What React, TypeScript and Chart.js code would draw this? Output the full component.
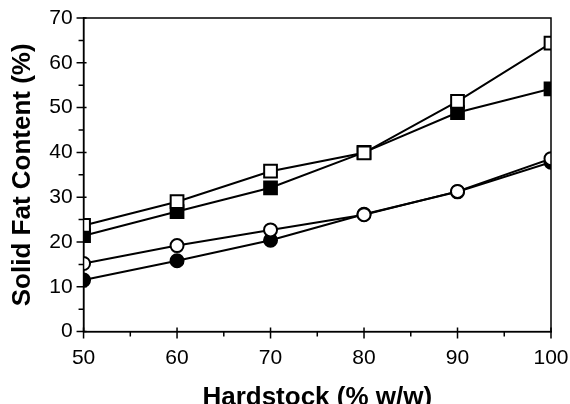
import React, { useEffect, useRef } from "react";
import { Chart, registerables } from "chart.js";

Chart.register(...registerables);

const hardstock = [50, 60, 70, 80, 90, 100];
const openSquare = [23.7, 29.0, 35.8, 39.9, 51.4, 64.4];
const filledSquare = [21.4, 26.8, 32.1, 40.0, 48.9, 54.2];
const openCircle = [15.2, 19.2, 22.7, 26.1, 31.3, 38.6];
const filledCircle = [11.5, 15.8, 20.4, 26.2, 31.2, 37.8];
const xTicks = [50, 55, 60, 65, 70, 75, 80, 85, 90, 95, 100];
const yTicks = [0, 5, 10, 15, 20, 25, 30, 35, 40, 45, 50, 55, 60, 65, 70];

const toPts = (ys: number[]) => hardstock.map((x, i) => ({ x, y: ys[i] }));

const framePlugin = {
  id: "frame",
  afterDraw(chart: any) {
    const { ctx, chartArea } = chart;
    const xs = chart.scales.x;
    const ys = chart.scales.y;
    ctx.save();
    ctx.strokeStyle = "#000";
    ctx.lineWidth = 1.5;
    ctx.strokeRect(chartArea.left, chartArea.top, chartArea.right - chartArea.left, chartArea.bottom - chartArea.top);
    ctx.beginPath();
    xTicks.forEach((v) => {
      const p = xs.getPixelForValue(v);
      const major = v % 10 === 0;
      ctx.moveTo(p, chartArea.bottom - (major ? 4 : 0));
      ctx.lineTo(p, chartArea.bottom + (major ? 7 : 5));
    });
    yTicks.forEach((v) => {
      const p = ys.getPixelForValue(v);
      const major = v % 10 === 0;
      ctx.moveTo(chartArea.left - (major ? 7 : 5), p);
      ctx.lineTo(chartArea.left + (major ? 3 : 0), p);
    });
    ctx.stroke();
    ctx.restore();
  },
};

export default function App() {
  const ref = useRef<HTMLCanvasElement>(null);
  useEffect(() => {
    document.body.style.margin = "0";
    const font = "'Liberation Sans', Arial, sans-serif";
    const ds = (data: number[], style: string, fill: boolean, r: number) => ({
      data: toPts(data),
      borderColor: "#000",
      borderWidth: 2,
      pointStyle: style,
      pointRadius: r,
      pointBorderWidth: 2,
      pointBackgroundColor: fill ? "#000" : "#fff",
      pointBorderColor: "#000",
      backgroundColor: fill ? "#000" : "#fff",
      tension: 0,
    });
    const chart = new Chart(ref.current!, {
      type: "line",
      data: {
        datasets: [
          ds(openSquare, "rect", false, 9),
          ds(openCircle, "circle", false, 6.5),
          ds(filledSquare, "rect", true, 9),
          ds(filledCircle, "circle", true, 6.5),
        ],
      },
      options: {
        animation: false,
        responsive: false,
        layout: { padding: { left: 7, right: 19, top: 18, bottom: -9 } },
        plugins: { legend: { display: false }, tooltip: { enabled: false } },
        scales: {
          x: {
            type: "linear",
            min: 50,
            max: 100,
            afterBuildTicks: (s: any) => {
              s.ticks = xTicks.map((v) => ({ value: v }));
            },
            afterFit: (s: any) => {
              s.paddingRight = 0;
              s.paddingLeft = 0;
            },
            ticks: {
              color: "#000",
              font: { family: font, size: 21 },
              autoSkip: false,
              maxRotation: 0,
              padding: 14,
              callback: (v: any) => (Number(v) % 10 === 0 ? String(v) : ""),
            },
            grid: { drawOnChartArea: false, drawTicks: false },
            border: { color: "#000", width: 1.5 },
            title: {
              display: true,
              text: "Hardstock (% w/w)",
              color: "#000",
              font: { family: font, size: 26, weight: "bold" },
              padding: { top: -3, bottom: 0 },
            },
          },
          y: {
            min: 0,
            max: 70,
            afterBuildTicks: (s: any) => {
              s.ticks = yTicks.map((v) => ({ value: v }));
            },
            afterFit: (s: any) => {
              s.paddingTop = 0;
              s.paddingBottom = 0;
            },
            ticks: {
              color: "#000",
              font: { family: font, size: 21 },
              autoSkip: false,
              padding: 11,
              callback: (v: any) => (Number(v) % 10 === 0 ? String(v) : ""),
            },
            grid: { drawOnChartArea: false, drawTicks: false },
            border: { color: "#000", width: 1.5 },
            title: {
              display: true,
              text: "Solid Fat Content (%)",
              color: "#000",
              font: { family: font, size: 26, weight: "bold" },
              padding: { top: 0, bottom: 0 },
            },
          },
        },
      },
      plugins: [framePlugin],
    });
    return () => chart.destroy();
  }, []);
  return (
    <div style={{ width: 570, height: 404 }}>
      <canvas ref={ref} width={570} height={404} />
    </div>
  );
}
